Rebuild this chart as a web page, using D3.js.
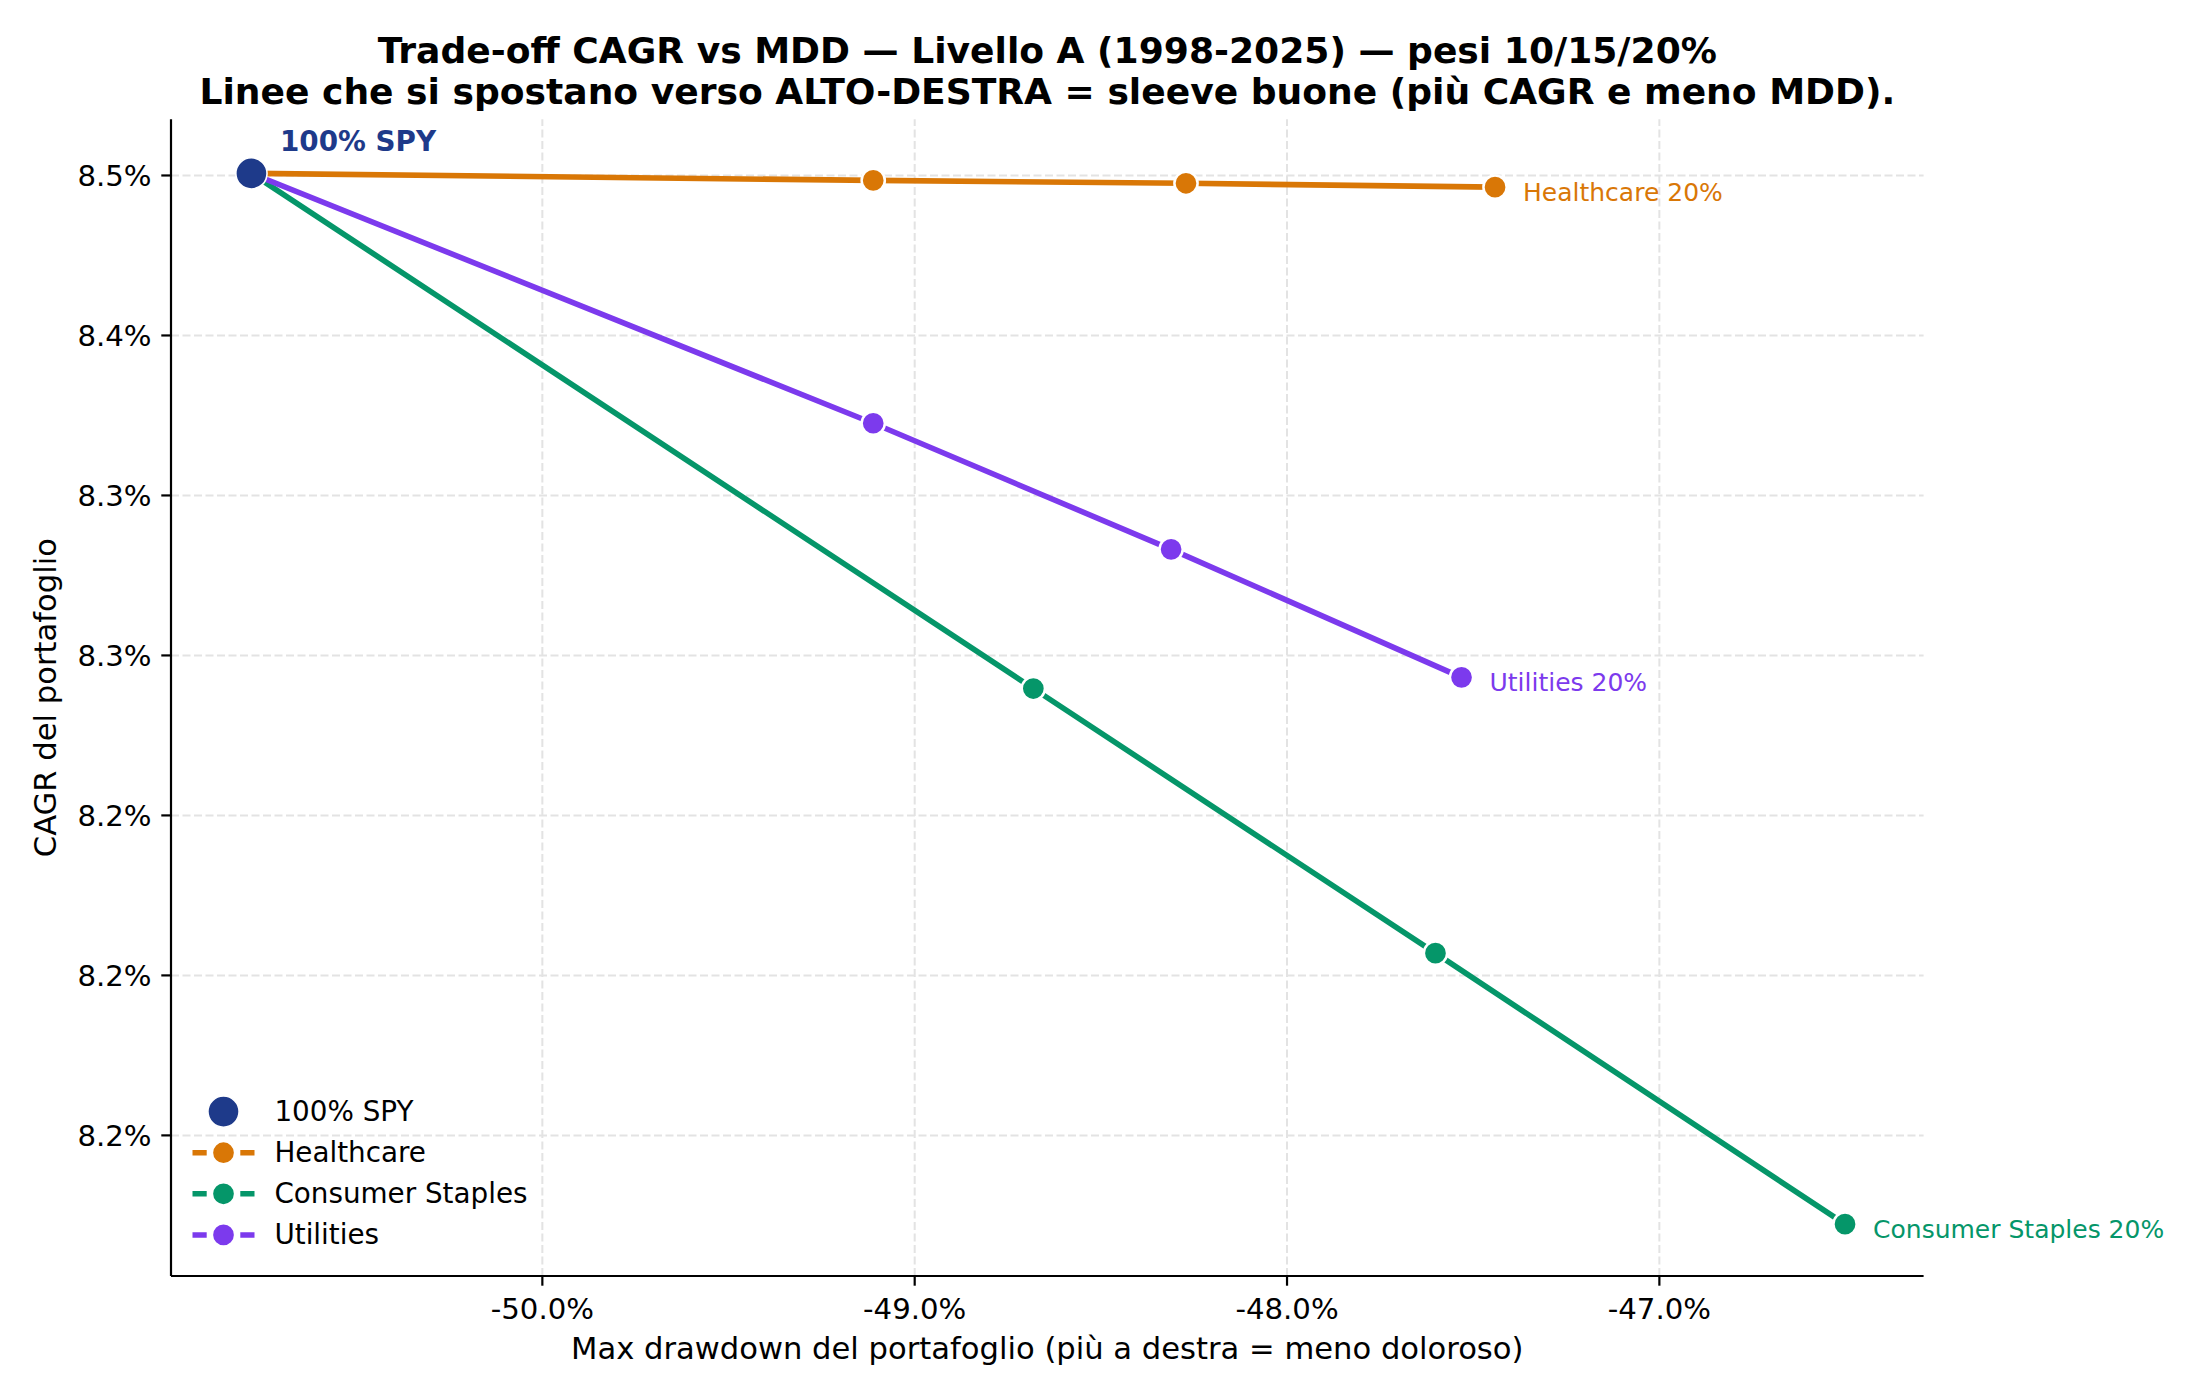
<!DOCTYPE html>
<html>
<head>
<meta charset="utf-8">
<script src="https://cdn.jsdelivr.net/npm/d3@7"></script>
<style>
  html, body { margin: 0; padding: 0; background: #ffffff; }
  svg { display: block; font-family: "DejaVu Sans", sans-serif; }
</style>
</head>
<body>
<svg id="chart" width="2200" height="1400"></svg>
<script>
// ---------------- data ----------------
const titleLines = [
  "Trade-off CAGR vs MDD — Livello A (1998-2025) — pesi 10/15/20%",
  "Linee che si spostano verso ALTO-DESTRA = sleeve buone (più CAGR e meno MDD)."
];
const xLabel = "Max drawdown del portafoglio (più a destra = meno doloroso)";
const yLabel = "CAGR del portafoglio";

const spyName = "100% SPY";
const spyMDD = -50.78;
const spyCAGR = 8.4505;

const categories = ["Healthcare", "Consumer Staples", "Utilities"];
const weights = [10, 15, 20];
const healthcareMDD = [-49.11, -48.27, -47.44];
const healthcareCAGR = [8.4483, 8.4474, 8.4462];
const staplesMDD = [-48.68, -47.60, -46.50];
const staplesCAGR = [8.2895, 8.2068, 8.1221];
const utilitiesMDD = [-49.11, -48.31, -47.53];
const utilitiesCAGR = [8.3724, 8.3330, 8.2930];

const xTicks = [-50, -49, -48, -47];
const xTickLabels = ["-50.0%", "-49.0%", "-48.0%", "-47.0%"];
const yTicks = [8.45, 8.40, 8.35, 8.30, 8.25, 8.20, 8.15];
const yTickLabels = ["8.5%", "8.4%", "8.3%", "8.3%", "8.2%", "8.2%", "8.2%"];

const colors = {
  "100% SPY": "#1E3A8A",
  "Healthcare": "#D97706",
  "Consumer Staples": "#059669",
  "Utilities": "#7C3AED"
};

const seriesMDD = [healthcareMDD, staplesMDD, utilitiesMDD];
const seriesCAGR = [healthcareCAGR, staplesCAGR, utilitiesCAGR];
const series = categories.map((name, i) => ({
  name,
  points: [{mdd: spyMDD, cagr: spyCAGR, w: 0}].concat(
    weights.map((w, j) => ({mdd: seriesMDD[i][j], cagr: seriesCAGR[i][j], w}))
  )
}));

// ---------------- layout ----------------
const svg = d3.select("#chart");
const plot = {left: 171, right: 1923.6, top: 119.3, bottom: 1276};
const fs = {title: 36.1, tick: 29.2, label: 30.6, annot: 25, legend: 27.8};

const x = d3.scaleLinear().domain([-50.996, -46.289]).range([plot.left, plot.right]);
const y = d3.scaleLinear().domain([8.1059, 8.4674]).range([plot.bottom, plot.top]);

svg.append("rect").attr("width", 2200).attr("height", 1400).attr("fill", "#fff");

// grid
const gridG = svg.append("g");
gridG.append("g")
  .attr("transform", `translate(0,${plot.bottom})`)
  .call(d3.axisBottom(x).tickValues(xTicks).tickSize(-(plot.bottom - plot.top)).tickFormat(""))
  .call(g => g.select(".domain").remove())
  .call(g => g.selectAll("line").attr("stroke", "#e3e3e3").attr("stroke-width", 2).attr("stroke-dasharray", "8,3.5"));
gridG.append("g")
  .attr("transform", `translate(${plot.left},0)`)
  .call(d3.axisLeft(y).tickValues(yTicks).tickSize(-(plot.right - plot.left)).tickFormat(""))
  .call(g => g.select(".domain").remove())
  .call(g => g.selectAll("line").attr("stroke", "#e3e3e3").attr("stroke-width", 2).attr("stroke-dasharray", "8,3.5"));

// axes
const xAxis = svg.append("g")
  .attr("transform", `translate(0,${plot.bottom})`)
  .call(d3.axisBottom(x).tickValues(xTicks).tickSize(9.7).tickPadding(12)
    .tickFormat((d, i) => xTickLabels[i]));
xAxis.attr("font-family", "DejaVu Sans");
xAxis.select(".domain").attr("d", `M${plot.left},0H${plot.right}`).attr("stroke", "#000").attr("stroke-width", 2.2);
xAxis.selectAll(".tick line").attr("stroke", "#000").attr("stroke-width", 2.2);
xAxis.selectAll(".tick text").attr("font-size", fs.tick).attr("fill", "#000")
  .attr("font-family", "DejaVu Sans").attr("dy", null).attr("y", 42.6);

const yAxis = svg.append("g")
  .attr("transform", `translate(${plot.left},0)`)
  .call(d3.axisLeft(y).tickValues(yTicks).tickSize(9.7).tickPadding(9.7)
    .tickFormat((d, i) => yTickLabels[i]));
yAxis.attr("font-family", "DejaVu Sans");
yAxis.select(".domain").attr("d", `M0,${plot.bottom}V${plot.top}`).attr("stroke", "#000").attr("stroke-width", 2.2);
yAxis.selectAll(".tick line").attr("stroke", "#000").attr("stroke-width", 2.2);
yAxis.selectAll(".tick text").attr("font-size", fs.tick).attr("fill", "#000")
  .attr("font-family", "DejaVu Sans").attr("dy", null).attr("y", 10.6).attr("x", -19.4);

// lines
const line = d3.line().x(d => x(d.mdd)).y(d => y(d.cagr));
const seriesG = svg.append("g");
series.forEach(s => {
  const g = seriesG.append("g");
  g.append("path").datum(s.points).attr("d", line)
    .attr("fill", "none").attr("stroke", colors[s.name]).attr("stroke-width", 5.6)
    .attr("stroke-linejoin", "round").attr("stroke-linecap", "butt");
  g.selectAll("circle").data(s.points.filter(p => p.w > 0)).join("circle")
    .attr("cx", d => x(d.mdd)).attr("cy", d => y(d.cagr)).attr("r", 11.6)
    .attr("fill", colors[s.name]).attr("stroke", "#fff").attr("stroke-width", 2.5);
  const last = s.points[s.points.length - 1];
  g.append("text")
    .attr("x", x(last.mdd) + 28).attr("y", y(last.cagr) + 13.8)
    .attr("font-size", fs.annot).attr("fill", colors[s.name])
    .text(`${s.name} ${last.w}%`);
});

// SPY marker
svg.append("circle")
  .attr("cx", x(spyMDD)).attr("cy", y(spyCAGR)).attr("r", 15.6)
  .attr("fill", colors[spyName]).attr("stroke", "#fff").attr("stroke-width", 1.6);
svg.append("text")
  .attr("x", x(spyMDD) + 28.6).attr("y", y(spyCAGR) - 22.6)
  .attr("font-size", 27.8).attr("font-weight", "bold").attr("fill", colors[spyName])
  .text(spyName);

// labels
svg.append("text")
  .attr("x", (plot.left + plot.right) / 2).attr("y", 1359.3)
  .attr("text-anchor", "middle").attr("font-size", fs.label).attr("fill", "#000")
  .text(xLabel);
svg.append("text")
  .attr("transform", `translate(56,${(plot.top + plot.bottom) / 2}) rotate(-90)`)
  .attr("text-anchor", "middle").attr("font-size", fs.label).attr("fill", "#000")
  .text(yLabel);

// title
svg.append("g").selectAll("text").data(titleLines).join("text")
  .attr("x", (plot.left + plot.right) / 2).attr("y", (d, i) => 62.5 + i * 41)
  .attr("text-anchor", "middle").attr("font-size", fs.title).attr("font-weight", "bold").attr("fill", "#000")
  .text(d => d);

// legend
const legendItems = [spyName].concat(categories);
const legend = svg.append("g");
legendItems.forEach((name, i) => {
  const cy = 1111.6 + i * 41.1;
  const g = legend.append("g");
  if (i === 0) {
    g.append("circle").attr("cx", 223.5).attr("cy", cy).attr("r", 15.6)
      .attr("fill", colors[name]).attr("stroke", "#fff").attr("stroke-width", 1.6);
  } else {
    g.append("line").attr("x1", 192.5).attr("x2", 254.5).attr("y1", cy).attr("y2", cy)
      .attr("stroke", colors[name]).attr("stroke-width", 5.5).attr("stroke-dasharray", "14.2,33.6,14.2");
    g.append("circle").attr("cx", 223.5).attr("cy", cy).attr("r", 11.6)
      .attr("fill", colors[name]).attr("stroke", "#fff").attr("stroke-width", 2.5);
  }
  g.append("text").attr("x", 274.4).attr("y", cy + 9.5)
    .attr("font-size", fs.legend).attr("fill", "#000").text(name);
});
</script>
</body>
</html>
